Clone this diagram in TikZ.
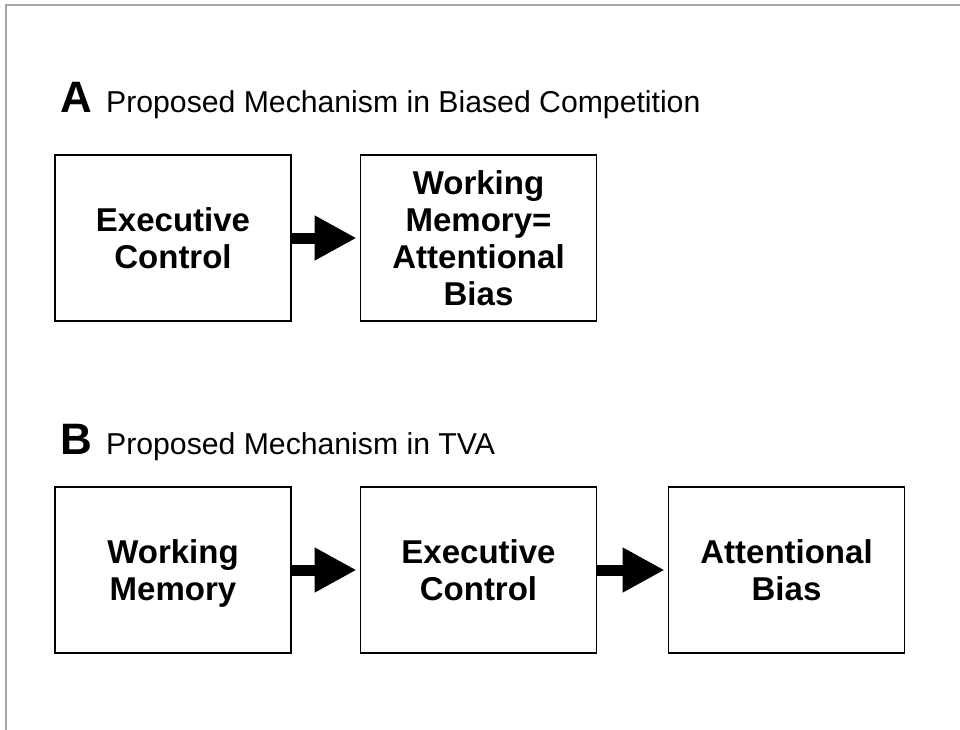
\documentclass[tikz,border=0pt]{standalone}
\usepackage{fontspec}
\setmainfont{Liberation Sans}
\usetikzlibrary{arrows.meta}
\begin{document}
\begin{tikzpicture}[x=1pt,y=-1pt,
  box/.style={draw=black,line width=1.8pt,minimum width=236pt,minimum height=166pt,inner sep=0pt,align=center,font=\fontsize{33}{37}\selectfont\bfseries},
  conn/.style={line width=11pt,-{Triangle[length=42pt,width=42pt]},shorten >=3pt},
  letter/.style={anchor=base west,inner sep=0pt,font=\fontsize{44}{44}\selectfont\bfseries},
  title/.style={anchor=base west,inner sep=0pt,font=\fontsize{30.2}{30}\selectfont}]
\useasboundingbox (0,0) rectangle (960,730);
\draw[gray!70, line width=1.5pt] (6,730) -- (6,5) -- (960,5);
% Panel A
\node[letter] (la) at (60,113) {A};
\node[title] (ta) at (106,113) {Proposed Mechanism in Biased Competition};
\node[box] (a1) at (173,238) {Executive\\Control};
\node[box] (a2) at (478.5,238) {Working\\Memory=\\Attentional\\Bias};
\draw[conn] (a1.east) -- (a2.west);
% Panel B
\node[letter] (lb) at (60,454) {B};
\node[title] (tb) at (106,454) {Proposed Mechanism in TVA};
\node[box] (b1) at (173,570) {Working\\\smash{Memory}};
\node[box] (b2) at (478.5,570) {Executive\\Control};
\node[box] (b3) at (786.5,570) {Attentional\\Bias};
\draw[conn] (b1.east) -- (b2.west);
\draw[conn] (b2.east) -- (b3.west);
\end{tikzpicture}
\end{document}
